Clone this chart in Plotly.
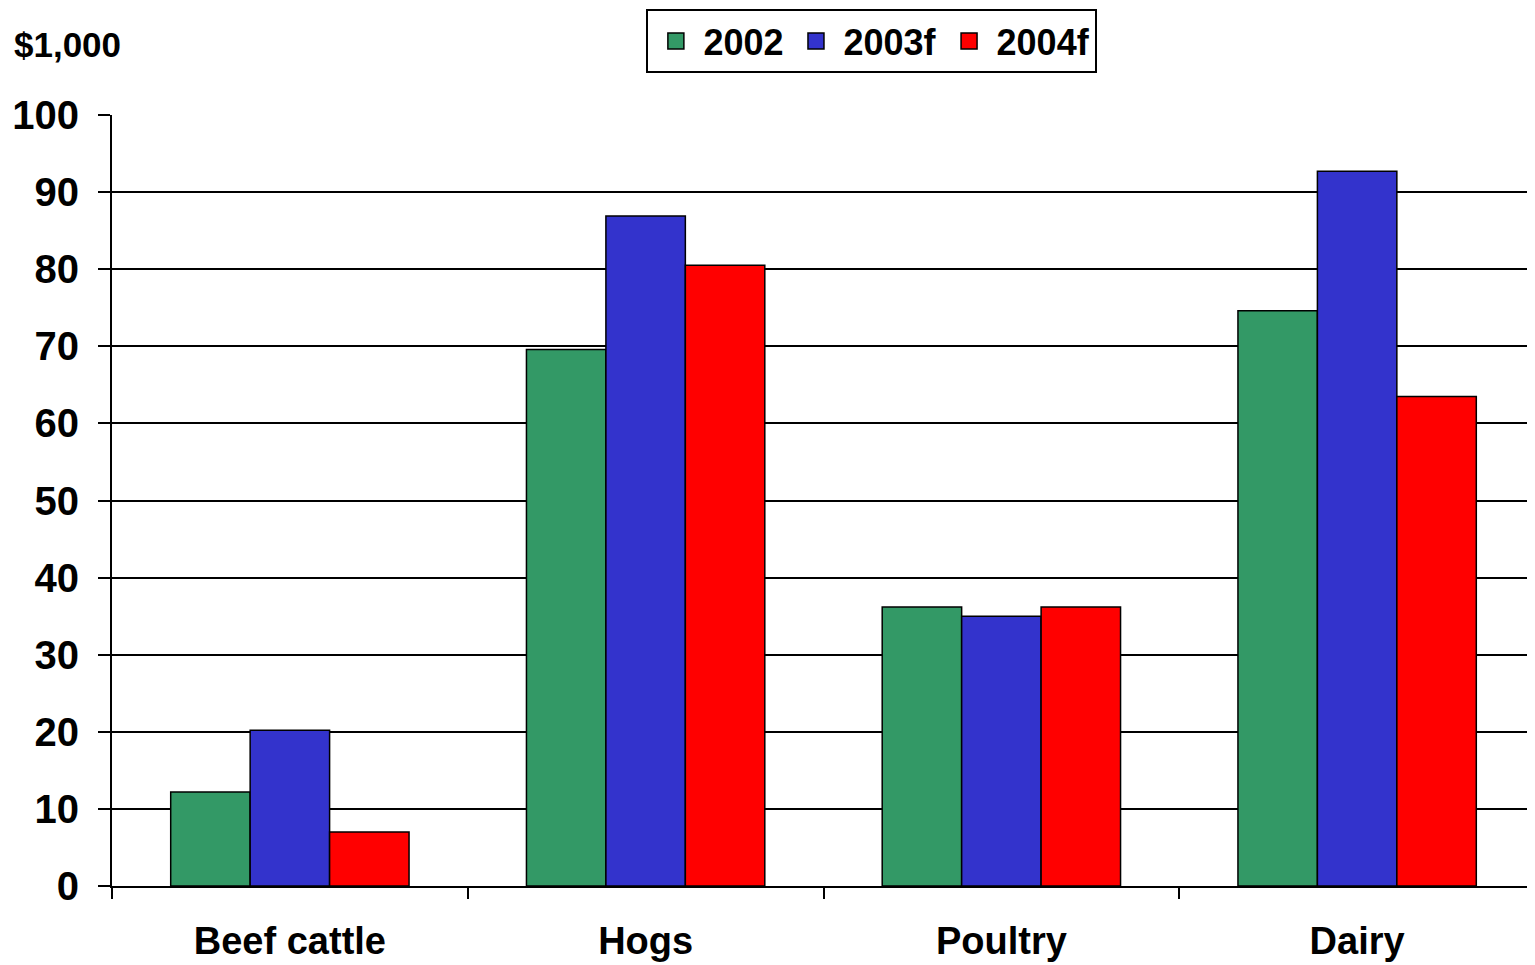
import plotly.graph_objects as go

categories = ["Beef cattle", "Hogs", "Poultry", "Dairy"]
series_names = ["2002", "2003f", "2004f"]
values_2002 = [12.2, 69.6, 36.2, 74.6]
values_2003f = [20.2, 86.9, 35.0, 92.7]
values_2004f = [7.0, 80.5, 36.2, 63.5]
colors = ["#339966", "#3333CC", "#FF0000"]
y_ticks = [0, 10, 20, 30, 40, 50, 60, 70, 80, 90, 100]

FONT = "Liberation Sans, Arial, sans-serif"

fig = go.Figure()
for name, vals, col in zip(series_names, [values_2002, values_2003f, values_2004f], colors):
    fig.add_trace(go.Bar(
        x=categories, y=vals, name=name, showlegend=False,
        marker=dict(color=col, line=dict(color="black", width=1.5)),
    ))
# legend entries with larger square swatches
for name, col in zip(series_names, colors):
    fig.add_trace(go.Scatter(
        x=[None], y=[None], mode="markers", name=name,
        marker=dict(symbol="square", size=16, color=col, line=dict(color="black", width=1.5)),
    ))

fig.update_layout(
    width=1527, height=957,
    barmode="group", bargap=0.33, bargroupgap=0,
    plot_bgcolor="white", paper_bgcolor="white",
    margin=dict(l=104, r=0, t=107, b=79, autoexpand=False),
    font=dict(family=FONT, size=38, color="black", weight="bold"),
    showlegend=True,
    legend=dict(
        orientation="h", x=0.534, xanchor="center", y=1.1375, yanchor="top",
        bordercolor="black", borderwidth=2, bgcolor="white",
        font=dict(family=FONT, size=36, color="black", weight="bold"),
        traceorder="normal", itemwidth=45,
    ),
    annotations=[dict(
        text="$1,000", xref="paper", yref="paper", x=-0.0703, y=1.0908,
        xanchor="left", yanchor="middle", showarrow=False,
        font=dict(family=FONT, size=35, color="black", weight="bold"),
    )],
)
fig.update_xaxes(
    type="category", range=[-0.5, 3.5],
    showline=True, linecolor="black", linewidth=2,
    ticks="outside", tickson="boundaries", ticklen=11, tickwidth=2, tickcolor="black",
    ticklabelstandoff=20,
    showgrid=False,
    tickfont=dict(family=FONT, size=38, color="black", weight="bold"),
)
fig.update_yaxes(
    range=[0, 100], tickvals=y_ticks,
    showline=True, linecolor="black", linewidth=2,
    ticks="outside", ticklen=12, tickwidth=2, tickcolor="black",
    ticklabelstandoff=11,
    showgrid=True, gridcolor="black", gridwidth=2,
    zeroline=False,
    tickfont=dict(family=FONT, size=40, color="black", weight="bold"),
)

fig.write_html("out.html")
